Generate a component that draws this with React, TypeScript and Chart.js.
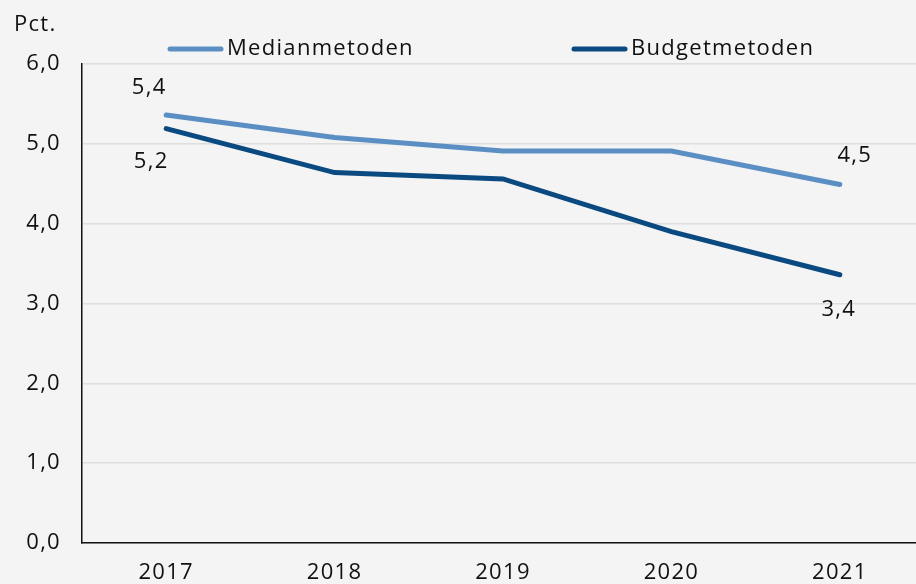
import React, { useEffect, useRef } from "react";
import { Chart, registerables } from "chart.js";

Chart.register(...registerables);

const years = ["2017", "2018", "2019", "2020", "2021"];
const medianValues = [5.36, 5.08, 4.91, 4.91, 4.49];
const budgetValues = [5.19, 4.64, 4.56, 3.9, 3.36];
const yTicks = [0, 1, 2, 3, 4, 5, 6];
const seriesNames = ["Medianmetoden", "Budgetmetoden"];
const unitLabel = "Pct.";

const FONT = "'Open Sans', 'Noto Sans', sans-serif";
const FSIZE = 22;
const SPACING = "1.3px";
const fmt = (v: number) => v.toFixed(1).replace(".", ",");

const spacingPlugin = {
  id: "spacing",
  beforeUpdate(chart: any) {
    chart.ctx.letterSpacing = SPACING;
  },
  beforeLayout(chart: any) {
    chart.ctx.letterSpacing = SPACING;
  },
  beforeDraw(chart: any) {
    chart.ctx.letterSpacing = SPACING;
  },
};

const overlayPlugin = {
  id: "overlay",
  afterDraw(chart: any) {
    const ctx = chart.ctx;
    ctx.save();
    ctx.letterSpacing = SPACING;
    ctx.font = `${FSIZE}px ${FONT}`;
    ctx.fillStyle = "#111";
    ctx.textAlign = "left";
    ctx.textBaseline = "middle";
    ctx.fillText(unitLabel, 14, 25);
    const legendX = [168, 572];
    chart.data.datasets.forEach((ds: any, i: number) => {
      const x0 = legendX[i];
      const y = 49;
      ctx.strokeStyle = ds.borderColor;
      ctx.lineWidth = 5;
      ctx.lineCap = "round";
      ctx.beginPath();
      ctx.moveTo(x0 + 2, y);
      ctx.lineTo(x0 + 53, y);
      ctx.stroke();
      ctx.fillStyle = "#111";
      ctx.textAlign = "left";
      ctx.textBaseline = "middle";
      ctx.fillText(ds.label, x0 + 59, y);
    });
    const offsets: Record<string, [number, number]> = {
      "0-0": [-17, -27],
      "0-4": [15, -29],
      "1-0": [-15, 33],
      "1-4": [-1, 35],
    };
    ctx.textAlign = "center";
    ctx.textBaseline = "middle";
    ctx.fillStyle = "#111";
    chart.data.datasets.forEach((ds: any, di: number) => {
      const meta = chart.getDatasetMeta(di);
      [0, ds.data.length - 1].forEach((pi) => {
        const pt = meta.data[pi];
        const off = offsets[`${di}-${pi}`];
        ctx.fillText(fmt(ds.data[pi]), pt.x + off[0], pt.y + off[1]);
      });
    });
    ctx.restore();
  },
};

export default function App() {
  const ref = useRef<HTMLCanvasElement | null>(null);
  useEffect(() => {
    if (!ref.current) return;
    const chart = new Chart(ref.current, {
      type: "line",
      data: {
        labels: years,
        datasets: [
          {
            label: seriesNames[0],
            data: medianValues,
            borderColor: "#5b8fc4",
            backgroundColor: "#5b8fc4",
            borderWidth: 5,
            pointRadius: 0,
            borderCapStyle: "round",
            tension: 0,
          },
          {
            label: seriesNames[1],
            data: budgetValues,
            borderColor: "#0a4a80",
            backgroundColor: "#0a4a80",
            borderWidth: 5,
            pointRadius: 0,
            borderCapStyle: "round",
            tension: 0,
          },
        ],
      },
      options: {
        animation: false,
        responsive: false,
        maintainAspectRatio: false,
        layout: { padding: { top: 64, right: 0, left: 0, bottom: 0 } },
        plugins: {
          legend: { display: false },
          tooltip: { enabled: false },
        },
        scales: {
          x: {
            offset: true,
            grid: { display: false, drawTicks: false },
            border: { display: true, color: "#111", width: 1.5 },
            ticks: { color: "#111", font: { family: FONT, size: FSIZE }, padding: 17 },
            afterFit(scale: any) {
              scale.height = 41;
            },
          },
          y: {
            min: 0,
            max: 6,
            afterBuildTicks(scale: any) {
              scale.ticks = yTicks.map((v) => ({ value: v }));
            },
            grid: { color: "#dedede", lineWidth: 1.5, drawTicks: false },
            border: { display: true, color: "#111", width: 1.5 },
            ticks: {
              color: "#111",
              font: { family: FONT, size: FSIZE },
              padding: 21,
              callback: (v: any) => fmt(Number(v)),
            },
            afterFit(scale: any) {
              scale.width = 82;
            },
          },
        },
      },
      plugins: [spacingPlugin, overlayPlugin],
    });
    return () => chart.destroy();
  }, []);
  return (
    <div style={{ position: "absolute", left: 0, top: 0, width: 916, height: 584, background: "#f4f4f4", overflow: "hidden" }}>
      <canvas ref={ref} width={924} height={584} style={{ display: "block" }} />
    </div>
  );
}
